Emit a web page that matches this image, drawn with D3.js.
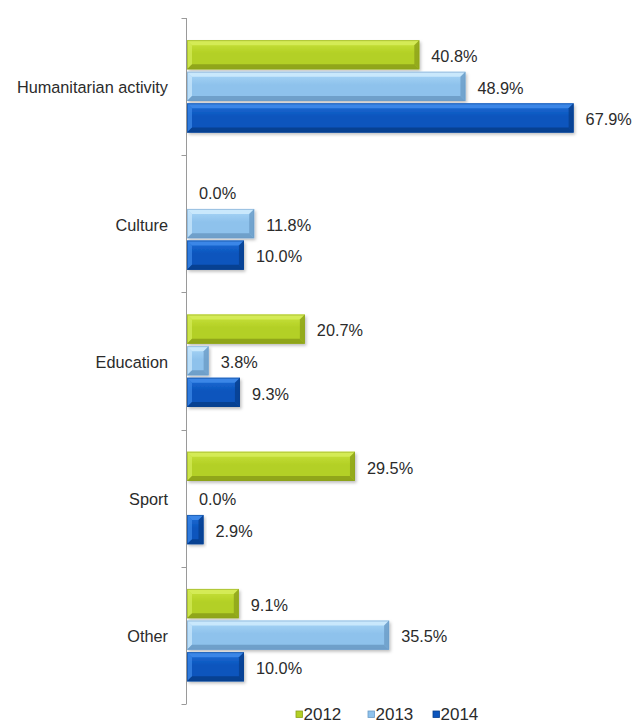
<!DOCTYPE html>
<html>
<head>
<meta charset="utf-8">
<script src="https://cdn.jsdelivr.net/npm/d3@7"></script>
<style>
  html, body { margin: 0; padding: 0; background: #fff; }
  svg { display: block; }
  text { font-family: "Liberation Sans", Arial, sans-serif; }
</style>
</head>
<body>
<svg id="chart" width="643" height="724"></svg>
<script>
const categories = ["Humanitarian activity", "Culture", "Education", "Sport", "Other"];
const seriesNames = ["2012", "2013", "2014"];
const values2012 = [40.8, 0.0, 20.7, 29.5, 9.1];
const values2013 = [48.9, 11.8, 3.8, 0.0, 35.5];
const values2014 = [67.9, 10.0, 9.3, 2.9, 10.0];
const seriesValues = [values2012, values2013, values2014];

const palette = {
  "2012": { base: "#b3d025", light: "#d6ec5a", dark: "#8ca11a", top: "#c9e33c" },
  "2013": { base: "#8ec2ec", light: "#cdeafd", dark: "#6b9cc7", top: "#aad7f7" },
  "2014": { base: "#0b55bd", light: "#3f8ae9", dark: "#073f8d", top: "#1f6fd8" }
};

const svg = d3.select("#chart");
const defs = svg.append("defs");

const f = defs.append("filter").attr("id", "shadow").attr("x", "-10%").attr("y", "-20%").attr("width", "130%").attr("height", "160%");
f.append("feDropShadow").attr("dx", 1.5).attr("dy", 2).attr("stdDeviation", 1.5).attr("flood-color", "#000").attr("flood-opacity", 0.25);

seriesNames.forEach(s => {
  const g = defs.append("linearGradient").attr("id", "grad" + s).attr("x1", 0).attr("y1", 0).attr("x2", 0).attr("y2", 1);
  g.append("stop").attr("offset", "0%").attr("stop-color", palette[s].top);
  g.append("stop").attr("offset", "45%").attr("stop-color", palette[s].base);
  g.append("stop").attr("offset", "100%").attr("stop-color", palette[s].base);
});

const axisX = 186.5;
const y = d3.scaleBand().domain(categories).range([18, 704]).paddingInner(0).paddingOuter(0);
const ySub = d3.scaleBand().domain(seriesNames).range([0, y.bandwidth()]).paddingInner(0.06).paddingOuter(0.7);
const x = d3.scaleLinear().domain([0, 70]).range([187, 187 + 70 * 5.694]);

// axis line and ticks
const axisG = svg.append("g");
axisG.append("line").attr("x1", axisX).attr("x2", axisX).attr("y1", y.range()[0]).attr("y2", y.range()[1])
  .attr("stroke", "#9a9a9a").attr("stroke-width", 1);
const bounds = categories.map(c => y(c)).concat([y.range()[1]]);
axisG.selectAll("line.tick").data(bounds).join("line").attr("class", "tick")
  .attr("x1", axisX - 5).attr("x2", axisX).attr("y1", d => Math.round(d) + 0.5).attr("y2", d => Math.round(d) + 0.5)
  .attr("stroke", "#9a9a9a").attr("stroke-width", 1);

// category labels
svg.append("g").selectAll("text").data(categories).join("text")
  .attr("x", 168).attr("y", d => y(d) + y.bandwidth() / 2 + 1)
  .attr("dy", "0.35em").attr("text-anchor", "end")
  .attr("font-size", 16.3).attr("fill", "#2b2b2b")
  .text(d => d);

// bars
const barData = [];
categories.forEach((c, i) => {
  seriesNames.forEach((s, j) => {
    barData.push({ cat: c, series: s, value: seriesValues[j][i] });
  });
});

const barsG = svg.append("g");
barData.forEach(d => {
  const bx = x(0);
  const bw = x(d.value) - x(0);
  const by = y(d.cat) + ySub(d.series);
  const bh = ySub.bandwidth() - 0.5;
  const p = palette[d.series];
  if (bw > 0) {
    const g = barsG.append("g");
    g.append("rect").attr("x", bx).attr("y", by).attr("width", bw).attr("height", bh)
      .attr("fill", "url(#grad" + d.series + ")").attr("filter", "url(#shadow)");
    const b = Math.min(5, bw / 2, bh / 2);
    const x0 = bx, x1 = bx + bw, y0 = by, y1 = by + bh;
    const polys = [
      { pts: [[x0, y0], [x1, y0], [x1 - b, y0 + b], [x0 + b, y0 + b]], fill: p.light, op: 0.9 },
      { pts: [[x0, y0], [x0 + b, y0 + b], [x0 + b, y1 - b], [x0, y1]], fill: p.light, op: 0.7 },
      { pts: [[x0, y1], [x0 + b, y1 - b], [x1 - b, y1 - b], [x1, y1]], fill: p.dark, op: 0.9 },
      { pts: [[x1, y0], [x1, y1], [x1 - b, y1 - b], [x1 - b, y0 + b]], fill: p.dark, op: 0.8 }
    ];
    polys.forEach(q => {
      g.append("polygon").attr("points", q.pts.map(pt => pt.join(",")).join(" "))
        .attr("fill", q.fill).attr("fill-opacity", q.op);
    });
    g.append("rect").attr("x", x0 + 0.5).attr("y", y0 + 0.5).attr("width", Math.max(0, bw - 1)).attr("height", bh - 1)
      .attr("fill", "none").attr("stroke", p.dark).attr("stroke-opacity", 0.5).attr("stroke-width", 1);
  }
  barsG.append("text")
    .attr("x", x(d.value) + 12).attr("y", by + bh / 2 + 1.5)
    .attr("dy", "0.35em").attr("font-size", 16.3).attr("fill", "#2b2b2b")
    .text(d.value.toFixed(1) + "%");
});

// legend
const legendX = { "2012": 296, "2013": 368, "2014": 433 };
const legend = svg.append("g");
seriesNames.forEach(s => {
  const p = palette[s];
  legend.append("rect").attr("x", legendX[s]).attr("y", 711).attr("width", 6.5).attr("height", 6.5)
    .attr("fill", p.base).attr("stroke", p.dark).attr("stroke-width", 0.8);
  legend.append("text").attr("x", legendX[s] + 7.5).attr("y", 719.5)
    .attr("font-size", 17).attr("fill", "#2b2b2b").text(s);
});
</script>
</body>
</html>
